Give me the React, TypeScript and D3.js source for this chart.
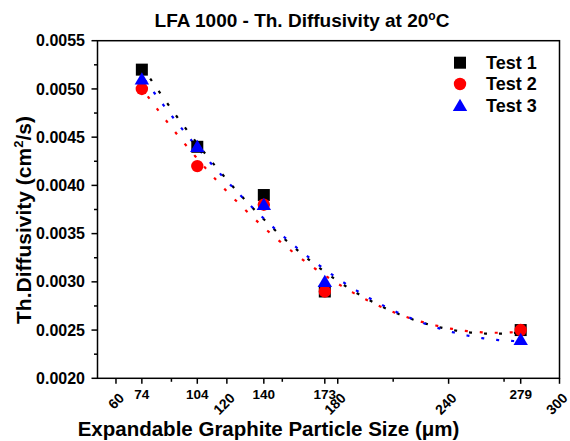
import React from "react";
import * as d3 from "d3";

const sizes = [74, 104, 140, 173, 279];
const test1 = [0.0052, 0.0044, 0.0039, 0.0029, 0.0025];
const test2 = [0.005, 0.0042, 0.0038, 0.0029, 0.0025];
const test3 = [0.0051, 0.0044, 0.0038, 0.003, 0.0024];
const seriesNames = ["Test 1", "Test 2", "Test 3"];
const seriesColors = ["#000000", "#ff0000", "#0000ff"];
const yTicks = [0.002, 0.0025, 0.003, 0.0035, 0.004, 0.0045, 0.005, 0.0055];
const yMinorTicks = [0.00225, 0.00275, 0.00325, 0.00375, 0.00425, 0.00475, 0.00525];
const xMajorTicks = [60, 120, 180, 240, 300];
const xDataTicks = [74, 104, 140, 173, 279];
const xMinorTicks = [90, 150, 210, 270];

const W = 570, H = 441;
const L = 97.5, R = 559.5, T = 40.7, B = 378.3;
const FONT = "'Liberation Sans', Arial, sans-serif";

function quadFit(xs: number[], ys: number[]) {
  // least-squares quadratic fit y = a + b x + c x^2
  const n = xs.length;
  const m = d3.mean(xs) as number;
  const u = xs.map((x) => (x - m) / 100);
  let s0 = n, s1 = 0, s2 = 0, s3 = 0, s4 = 0, t0 = 0, t1 = 0, t2 = 0;
  u.forEach((v, i) => {
    s1 += v; s2 += v * v; s3 += v * v * v; s4 += v * v * v * v;
    t0 += ys[i]; t1 += v * ys[i]; t2 += v * v * ys[i];
  });
  const A = [
    [s0, s1, s2, t0],
    [s1, s2, s3, t1],
    [s2, s3, s4, t2],
  ];
  for (let i = 0; i < 3; i++) {
    for (let k = i + 1; k < 3; k++) {
      const f = A[k][i] / A[i][i];
      for (let j = i; j < 4; j++) A[k][j] -= f * A[i][j];
    }
  }
  const c = A[2][3] / A[2][2];
  const b = (A[1][3] - A[1][2] * c) / A[1][1];
  const a = (A[0][3] - A[0][1] * b - A[0][2] * c) / A[0][0];
  return (x: number) => {
    const v = (x - m) / 100;
    return a + b * v + c * v * v;
  };
}

export default function App() {
  const x = d3.scaleLinear().domain([50, 300]).range([L, R]);
  const y = d3.scaleLinear().domain([0.002, 0.0055]).range([B, T]);
  const all = [test1, test2, test3];
  const line = d3.line<[number, number]>().x((d) => x(d[0])).y((d) => y(d[1])).curve(d3.curveLinear);
  const fitX = d3.range(sizes[0], sizes[sizes.length - 1] + 0.001, 1);

  const marker = (i: number, cx: number, cy: number, key: string) => {
    const c = seriesColors[i];
    if (i === 0) return <rect key={key} x={cx - 6} y={cy - 6} width={12} height={12} fill={c} />;
    if (i === 1) return <circle key={key} cx={cx} cy={cy} r={6.2} fill={c} />;
    return <path key={key} d={`M${cx},${cy - 7}L${cx + 7.2},${cy + 5.2}L${cx - 7.2},${cy + 5.2}Z`} fill={c} />;
  };

  return (
    <svg width={W} height={H} style={{ position: "absolute", left: 0, top: 0, background: "#fff" }} fontFamily={FONT}>
      <rect x={0} y={0} width={W} height={H} fill="#fff" />
      {/* title */}
      <text x={302} y={27} textAnchor="middle" fontSize={19} fontWeight="bold">
        LFA 1000 - Th. Diffusivity at 20<tspan fontSize={12} dy={-7}>o</tspan><tspan dy={7}>C</tspan>
      </text>
      {/* fit curves */}
      {all.map((s, i) => {
        const f = quadFit(sizes, s);
        const pts: [number, number][] = fitX.map((v) => [v, f(v)]);
        return (
          <path key={"fit" + i} d={line(pts) as string} fill="none" stroke={seriesColors[i]}
            strokeWidth={2.2} strokeDasharray="3 12" strokeDashoffset={i * 5} />
        );
      })}
      {/* markers */}
      {[0, 1, 2].map((i) =>
        sizes.map((sz, j) => marker(i, x(sz), y(all[i][j]), `m${i}-${j}`))
      )}
      {/* frame */}
      <rect x={L} y={T} width={R - L} height={B - T} fill="none" stroke="#000" strokeWidth={1.5} />
      {/* y ticks */}
      {yTicks.map((t) => (
        <g key={"yt" + t}>
          <line x1={L - 6} x2={L} y1={y(t)} y2={y(t)} stroke="#000" strokeWidth={1.5} />
          <text x={85} y={y(t)} dy="0.35em" textAnchor="end" fontSize={16} fontWeight="bold">
            {d3.format(".4f")(t)}
          </text>
        </g>
      ))}
      {yMinorTicks.map((t) => (
        <line key={"ym" + t} x1={L - 3.5} x2={L} y1={y(t)} y2={y(t)} stroke="#000" strokeWidth={1.5} />
      ))}
      {/* x ticks */}
      {xMajorTicks.map((t) => (
        <g key={"xt" + t}>
          <line x1={x(t)} x2={x(t)} y1={B} y2={B + 5.5} stroke="#000" strokeWidth={1.5} />
          <text transform={`translate(${x(t) + 9},${399}) rotate(-45)`} textAnchor="end" fontSize={14} fontWeight="bold">
            {t}
          </text>
        </g>
      ))}
      {xDataTicks.map((t) => (
        <g key={"xd" + t}>
          <line x1={x(t)} x2={x(t)} y1={B} y2={B + 5.5} stroke="#000" strokeWidth={1.5} />
          <text x={x(t)} y={398.5} textAnchor="middle" fontSize={13.5} fontWeight="bold">
            {t}
          </text>
        </g>
      ))}
      {xMinorTicks.map((t) => (
        <line key={"xm" + t} x1={x(t)} x2={x(t)} y1={B} y2={B + 3.5} stroke="#000" strokeWidth={1.5} />
      ))}
      {/* axis labels */}
      <text x={268.5} y={436} textAnchor="middle" fontSize={20.5} fontWeight="bold">
        Expandable Graphite Particle Size (μm)
      </text>
      <text transform={`translate(31,220) rotate(-90)`} textAnchor="middle" fontSize={21} fontWeight="bold">
        Th.Diffusivity (cm<tspan fontSize={13} dy={-8}>2</tspan><tspan dy={8}>/s)</tspan>
      </text>
      {/* legend */}
      {seriesNames.map((n, i) => {
        const ly = [62.7, 84, 105.7][i];
        return (
          <g key={"lg" + i}>
            {marker(i, 460, ly, "lm" + i)}
            <text x={486} y={ly} dy="0.35em" fontSize={18} fontWeight="bold">{n}</text>
          </g>
        );
      })}
    </svg>
  );
}
